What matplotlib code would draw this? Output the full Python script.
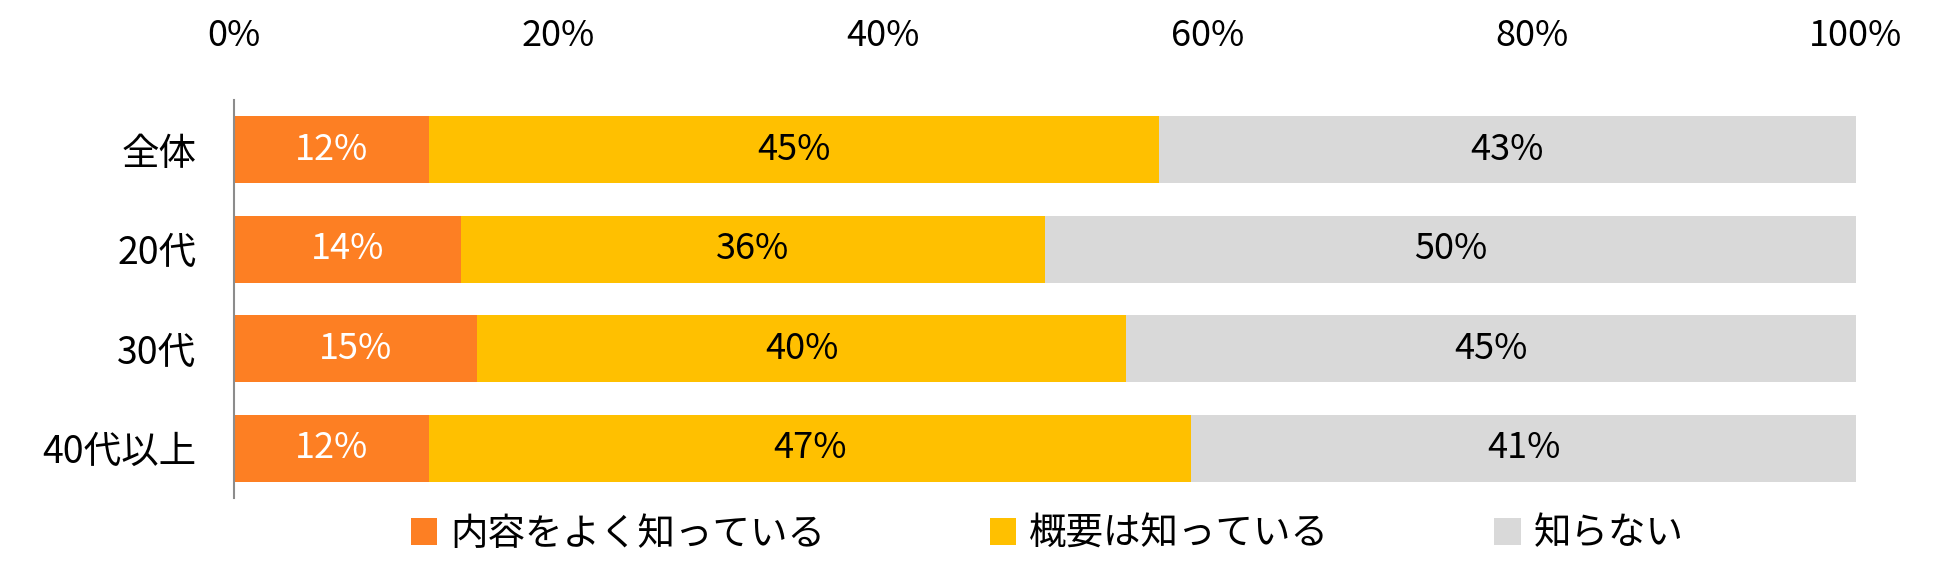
import matplotlib
matplotlib.use("Agg")
import matplotlib.pyplot as plt
from matplotlib.patches import Patch

plt.rcParams['font.family'] = ['Noto Sans CJK JP', 'DejaVu Sans']

categories = ["全体", "20代", "30代", "40代以上"]
series_names = ["内容をよく知っている", "概要は知っている", "知らない"]
well_known = [12, 14, 15, 12]
overview = [45, 36, 40, 47]
unknown = [43, 50, 45, 41]
xticks = [0, 20, 40, 60, 80, 100]
xtick_labels = ["0%", "20%", "40%", "60%", "80%", "100%"]

colors = ["#FD7F23", "#FFC000", "#D9D9D9"]
label_colors = ["white", "black", "black"]

FS_NUM = 26
FS_CJK = 27

fig = plt.figure(figsize=(19.5, 5.75), dpi=100)
ax = fig.add_axes([234/1950, 1 - 498/575, (1856-234)/1950, (498-100)/575])

series = [well_known, overview, unknown]
y = list(range(len(categories)))
left = [0]*len(categories)
for vals, col, lc in zip(series, colors, label_colors):
    bars = ax.barh(y, vals, left=left, color=col, height=0.67)
    for b, v in zip(bars, vals):
        ax.text(b.get_x() + b.get_width()/2, b.get_y() + b.get_height()/2,
                f"{v}%", ha='center', va='center', color=lc, fontsize=FS_NUM)
    left = [l + v for l, v in zip(left, vals)]

ax.set_xlim(0, 100)
ax.set_ylim(len(categories) - 0.5, -0.5)
ax.set_yticks(y)
ax.set_yticklabels(categories, fontsize=FS_CJK)
ax.set_xticks(xticks)
ax.set_xticklabels(xtick_labels, fontsize=FS_NUM)
ax.xaxis.tick_top()
ax.tick_params(axis='x', length=0, pad=33)
ax.tick_params(axis='y', length=0, pad=27)
for s in ['top', 'right', 'bottom']:
    ax.spines[s].set_visible(False)
ax.spines['left'].set_color('#8C8C8C')
ax.spines['left'].set_linewidth(1.5)

handles = [Patch(facecolor=c, edgecolor='none') for c in colors]
fig.legend(handles, series_names, loc='center', bbox_to_anchor=(0.537, 1 - 534/575),
           ncol=3, frameon=False, fontsize=FS_CJK, handlelength=0.7, handleheight=0.7,
           handletextpad=0.35, columnspacing=4.4)

fig.savefig("out.png", dpi=100)
